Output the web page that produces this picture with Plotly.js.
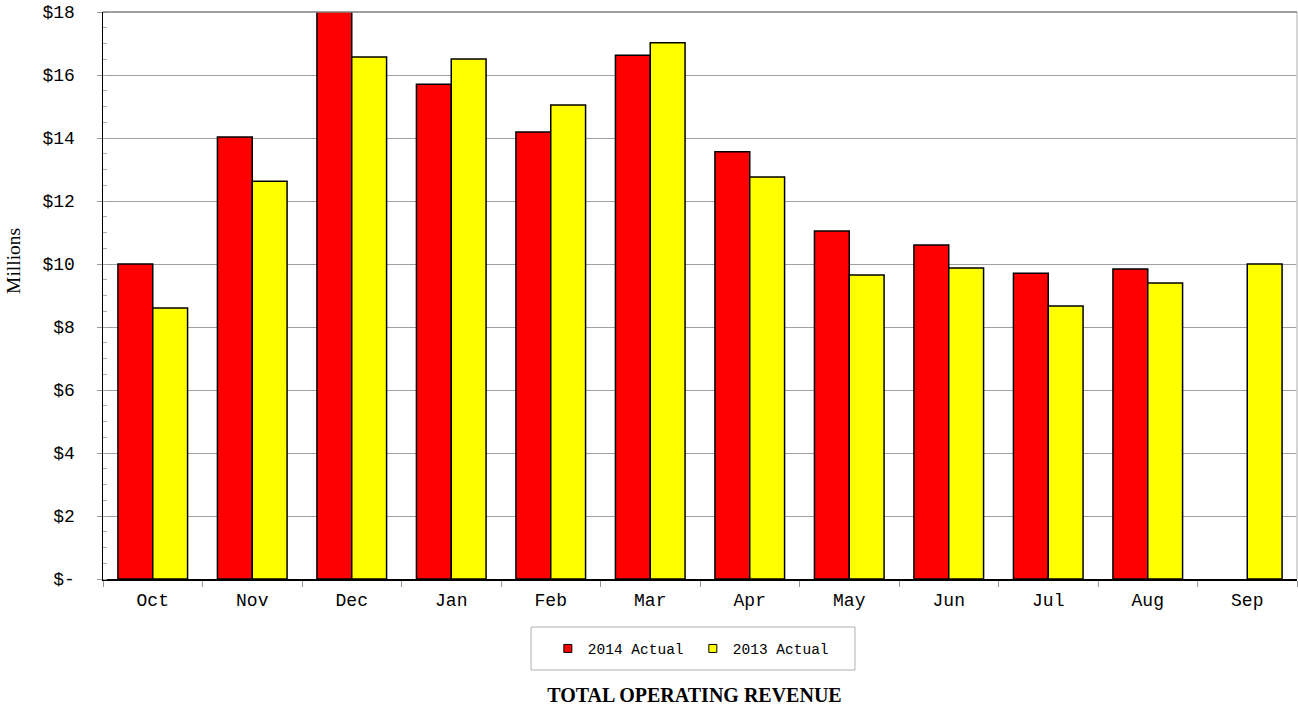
<!DOCTYPE html>
<html>
<head>
<meta charset="utf-8">
<script src="https://cdn.plot.ly/plotly-3.0.1.min.js"></script>
<style>html,body{margin:0;padding:0;background:#fff;}#chart{width:1298px;height:706px;}</style>
</head>
<body>
<div id="chart"></div>
<script>
var months = ["Oct","Nov","Dec","Jan","Feb","Mar","Apr","May","Jun","Jul","Aug","Sep"];
var actual2014 = [10.0, 14.03, 18.4, 15.71, 14.19, 16.63, 13.56, 11.05, 10.6, 9.71, 9.84, null];
var actual2013 = [8.6, 12.63, 16.57, 16.51, 15.05, 17.02, 12.76, 9.65, 9.87, 8.67, 9.4, 10.0];
var seriesNames = ["2014 Actual", "2013 Actual"];
var seriesColors = ["#ff0000", "#ffff00"];
var yTickVals = [0, 2, 4, 6, 8, 10, 12, 14, 16, 18];
var yTickText = ["$-", "$2", "$4", "$6", "$8", "$10", "$12", "$14", "$16", "$18"];

var mono = "Courier New, Liberation Mono, monospace";
var serif = "Times New Roman, Liberation Serif, serif";

var traces = [
  {type:"bar", name:seriesNames[0], x:months, y:actual2014, showlegend:false,
   marker:{color:seriesColors[0], line:{color:"#000", width:1.5}}},
  {type:"bar", name:seriesNames[1], x:months, y:actual2013, showlegend:false,
   marker:{color:seriesColors[1], line:{color:"#000", width:1.5}}},
  {type:"scatter", mode:"markers", name:seriesNames[0], x:[null], y:[null],
   marker:{symbol:"square", size:8, color:seriesColors[0], line:{color:"#000", width:1}}},
  {type:"scatter", mode:"markers", name:seriesNames[1], x:[null], y:[null],
   marker:{symbol:"square", size:8, color:seriesColors[1], line:{color:"#000", width:1}}}
];

var layout = {
  width:1298, height:706,
  margin:{l:103, r:1, t:12, b:127},
  paper_bgcolor:"#fff", plot_bgcolor:"#fff",
  barmode:"group", bargap:0.3, bargroupgap:0,
  showlegend:true,
  legend:{orientation:"h", x:0.494, xanchor:"center", y:-0.1226, yanchor:"middle",
          font:{family:mono, size:14.5, color:"#000"}, bgcolor:"rgba(0,0,0,0)",
          itemwidth:30, entrywidth:100, entrywidthmode:"pixels", tracegroupgap:0},
  xaxis:{type:"category", showline:true, linecolor:"#000", linewidth:1.5,
         ticks:"outside", tickson:"boundaries", ticklen:6, tickcolor:"#999",
         ticklabelstandoff:4,
         tickfont:{family:mono, size:18, color:"#000"}, showgrid:false, fixedrange:true},
  yaxis:{range:[0,18], tickvals:yTickVals, ticktext:yTickText,
         showline:true, linecolor:"#000", linewidth:1.5,
         ticks:"outside", ticklen:5, tickcolor:"#999", ticklabelstandoff:18,
         showgrid:true, gridcolor:"#a0a0a0", gridwidth:1,
         minor:{dtick:0.5, tick0:0, ticks:"inside", ticklen:4, tickcolor:"#aaa", showgrid:false},
         tickfont:{family:mono, size:18, color:"#000"}, zeroline:false, fixedrange:true},
  title:{text:"<b>TOTAL OPERATING REVENUE</b>", xref:"container", yref:"container",
         x:0.535, xanchor:"center", y:0.016, yanchor:"middle",
         font:{family:serif, size:20, color:"#000"}},
  shapes:[
    {type:"rect", xref:"paper", yref:"paper", x0:0.3585, x1:0.6298, y0:-0.1605, y1:-0.0847,
     line:{color:"#b0b0b0", width:1}, fillcolor:"rgba(0,0,0,0)"},
    {type:"line", xref:"paper", yref:"paper", x0:1, x1:1, y0:0, y1:1,
     line:{color:"#c8c8c8", width:1.5}},
    {type:"line", xref:"paper", yref:"paper", x0:0, x1:1, y0:1, y1:1,
     line:{color:"#808080", width:1.5}}
  ],
  annotations:[
    {text:"Millions", xref:"paper", yref:"paper", x:-0.0745, y:0.561, textangle:-90,
     showarrow:false, xanchor:"center", yanchor:"middle",
     font:{family:serif, size:19.5, color:"#000"}}
  ]
};

Plotly.newPlot("chart", traces, layout, {displayModeBar:false, staticPlot:true});
</script>
</body>
</html>
